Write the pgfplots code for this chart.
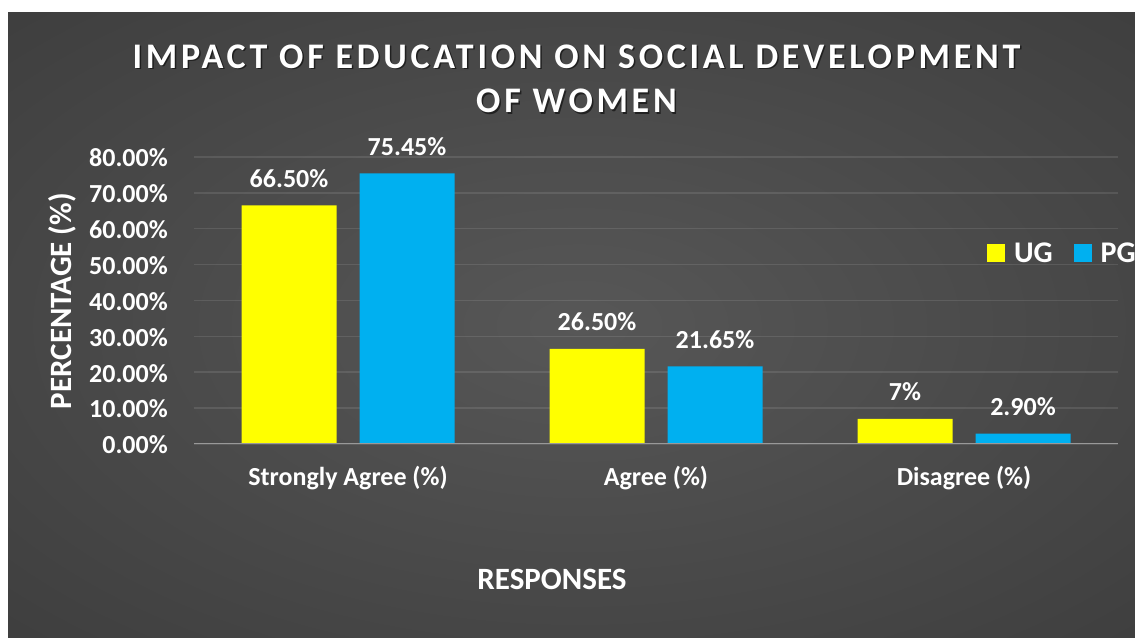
\documentclass[border=0pt]{standalone}
\usepackage{pgfplots}
\pgfplotsset{compat=1.18}
\usepackage{fontspec}
\setmainfont{Carlito}
\newfontfamily\titlefont{Carlito}[LetterSpace=10.3]

\definecolor{ugyellow}{HTML}{FFFF00}
\definecolor{pgblue}{HTML}{00B0F0}
\definecolor{bgin}{HTML}{575757}
\definecolor{bgout}{HTML}{262626}
\pgfdeclareradialshading{chartbg}{\pgfpoint{0bp}{0bp}}{color(0bp)=(bgin); color(71bp)=(bgout)}

\begin{document}
\begin{tikzpicture}[x=1pt,y=1pt]
\clip (0,0) rectangle (1135,639);
\fill[white] (0,0) rectangle (1135,639);
\shade[shading=chartbg] (8,1) rectangle (1150,626);

% title with soft shadow
\tikzset{ttl/.style={font=\titlefont\bfseries\fontsize{36}{40}\selectfont, anchor=base, inner sep=0pt}}
\node[ttl, text=black, opacity=0.55] at (578,569.2) {IMPACT OF EDUCATION ON SOCIAL DEVELOPMENT};
\node[ttl, text=white] at (576.5,570.7) {IMPACT OF EDUCATION ON SOCIAL DEVELOPMENT};
\node[ttl, text=black, opacity=0.55] at (578,524.8) {OF WOMEN};
\node[ttl, text=white] at (576.5,526.3) {OF WOMEN};

\begin{axis}[
at={(194pt,195pt)}, anchor=south west,
width=924pt, height=287pt, scale only axis,
xmin=-0.5, xmax=2.5,
ymin=0, ymax=80,
enlargelimits=false,
ybar=23pt, bar width=95pt,
xtick={0,1,2},
xticklabels={Strongly Agree (\%), Agree (\%), Disagree (\%)},
ytick={0,10,20,30,40,50,60,70,80},
yticklabels={0.00\%,10.00\%,20.00\%,30.00\%,40.00\%,50.00\%,60.00\%,70.00\%,80.00\%},
major tick length=0pt,
axis line style={draw=none},
ymajorgrids,
major grid style={white, opacity=0.1, line width=1.5pt},
tick label style={font=\bfseries\fontsize{26}{30}\selectfont, text=white},
yticklabel style={anchor=east, inner sep=0pt, xshift=-26pt, yshift=-1pt},
xticklabel style={anchor=base, inner sep=0pt, yshift=-42pt},
xlabel={RESPONSES},
xlabel style={at={(axis description cs:0.3874,-0.5063)}, anchor=base, inner sep=0pt,
  font=\bfseries\fontsize{31}{35}\selectfont, text=white},
ylabel={PERCENTAGE (\%)},
ylabel style={at={(axis description cs:-0.1324,0.498)}, anchor=base, inner sep=0pt,
  font=\bfseries\fontsize{31}{35}\selectfont, text=white},
nodes near coords,
point meta=explicit symbolic,
every node near coord/.append style={font=\bfseries\fontsize{26}{30}\selectfont, text=white,
  inner sep=0pt, anchor=base, yshift=18pt},
legend style={at={(0.858,0.6655)}, anchor=west, draw=none, fill=none, inner sep=0pt,
  font=\bfseries\fontsize{30}{34}\selectfont, text=white, nodes={inner sep=0pt},
  /tikz/every odd column/.append style={column sep=9pt},
  /tikz/every even column/.append style={column sep=21pt}},
legend columns=2,
legend cell align=left,
legend image code/.code={\fill[#1] (0pt,-9pt) rectangle (18pt,9pt);},
]
\addplot[fill=ugyellow, draw=none] coordinates {
(0,66.5) [66.50\%]
(1,26.5) [26.50\%]
(2,7) [7\%]
};
\addlegendentry{UG}
\addplot[fill=pgblue, draw=none] coordinates {
(0,75.45) [75.45\%]
(1,21.65) [21.65\%]
(2,2.9) [2.90\%]
};
\addlegendentry{PG}
\draw[white!60!black, line width=1.5pt] (axis cs:-0.5,0) -- (axis cs:2.5,0);
\end{axis}
\end{tikzpicture}
\end{document}
